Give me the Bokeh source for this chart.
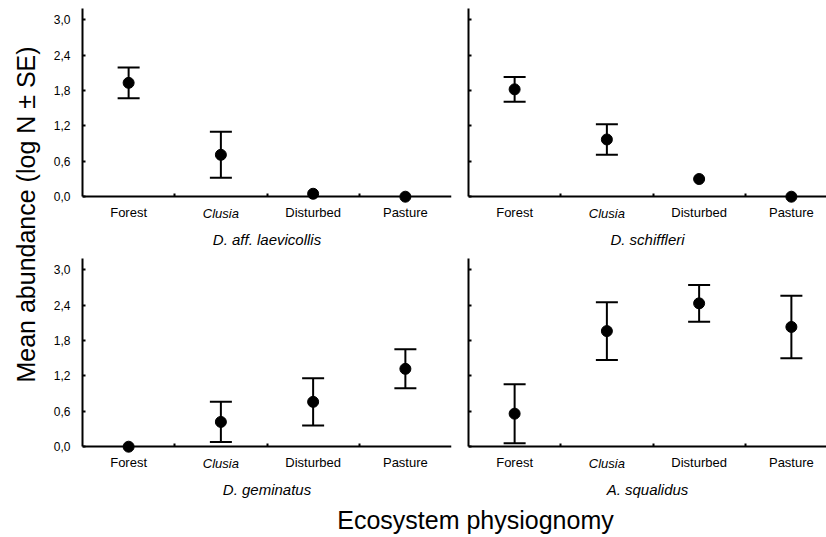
import math

from bokeh.embed import file_html
from bokeh.layouts import column, row
from bokeh.models import (ColumnDataSource, CustomJSTickFormatter, FixedTicker, Label,
                          LinearAxis, Range1d, TeeHead, Whisker)
from bokeh.plotting import figure
from bokeh.resources import INLINE

# Habitat categories along each x axis
habitats = ["Forest", "Clusia", "Disturbed", "Pasture"]
italic_habitats = ["Clusia"]

# Species shown in the four panels
species = ["D. aff. laevicollis", "D. schiffleri", "D. geminatus", "A. squalidus"]

# Mean abundance (log N) and standard error per habitat
laevicollis_mean = [1.93, 0.71, 0.05, 0.00]
laevicollis_se = [0.26, 0.39, 0.00, 0.00]

schiffleri_mean = [1.82, 0.97, 0.30, 0.00]
schiffleri_se = [0.21, 0.26, 0.00, 0.00]

geminatus_mean = [0.00, 0.42, 0.76, 1.32]
geminatus_se = [0.00, 0.34, 0.40, 0.33]

squalidus_mean = [0.56, 1.96, 2.43, 2.03]
squalidus_se = [0.50, 0.49, 0.31, 0.53]

y_ticks = [0.0, 0.6, 1.2, 1.8, 2.4, 3.0]

y_title = "Mean abundance (log N \u00b1 SE)"
x_title = "Ecosystem physiognomy"

FONT = "Liberation Sans"
PX_PER_X = 92.25          # pixels per habitat slot
PX_PER_Y = 59.0           # pixels per log unit
PANEL_H = 250
TOP = 8
FRAME_H = PANEL_H - TOP
Y_MAX = 3.19
Y_MIN = Y_MAX - FRAME_H / PX_PER_Y   # room under zero for the habitat and species names


def blank(width, height):
    f = figure(width=width, height=height, x_range=Range1d(0, width), y_range=Range1d(0, height),
               x_axis_type=None, y_axis_type=None, output_backend="svg", toolbar_location=None,
               min_border=0)
    f.outline_line_color = None
    return f


def panel(name, means, ses, width, frame_w, border_left, border_right, show_y_labels):
    x_end = frame_w / PX_PER_X
    p = figure(width=width, height=PANEL_H, x_range=Range1d(0, x_end), y_range=Range1d(Y_MIN, Y_MAX),
               x_axis_type=None, y_axis_type=None, output_backend="svg", toolbar_location=None,
               min_border_left=border_left, min_border_right=border_right,
               min_border_top=TOP, min_border_bottom=0)
    p.outline_line_color = None

    xs = [i + 0.5 for i in range(len(habitats))]
    overrides = {x: ("" if h in italic_habitats else h) for x, h in zip(xs, habitats)}

    # x axis sits on the zero line; its names hang below it inside the frame
    xaxis = LinearAxis(ticker=FixedTicker(ticks=xs, minor_ticks=[1, 2, 3]), fixed_location=0,
                       major_label_overrides=overrides, axis_label=name)
    xaxis.axis_line_width = 2
    xaxis.axis_line_color = "black"
    xaxis.major_tick_line_color = None
    xaxis.major_tick_in = 0
    xaxis.major_tick_out = 0
    xaxis.minor_tick_in = 3
    xaxis.minor_tick_out = 0
    xaxis.minor_tick_line_width = 2
    xaxis.minor_tick_line_color = "black"
    xaxis.major_label_standoff = 8
    xaxis.major_label_text_font = FONT
    xaxis.major_label_text_font_size = "13px"
    xaxis.major_label_text_color = "black"
    xaxis.axis_label_standoff = 8
    xaxis.axis_label_text_font = FONT
    xaxis.axis_label_text_font_size = "15px"
    xaxis.axis_label_text_font_style = "italic"
    xaxis.axis_label_text_color = "black"
    p.add_layout(xaxis, "below")

    yaxis = LinearAxis(ticker=FixedTicker(ticks=y_ticks), bounds=(0, Y_MAX))
    if show_y_labels:
        yaxis.formatter = CustomJSTickFormatter(code="return tick.toFixed(1).replace('.', ',');")
    else:
        yaxis.formatter = CustomJSTickFormatter(code="return '';")
    yaxis.axis_line_width = 2
    yaxis.axis_line_color = "black"
    yaxis.major_tick_in = 3
    yaxis.major_tick_out = 0
    yaxis.major_tick_line_width = 2
    yaxis.major_tick_line_color = "black"
    yaxis.minor_tick_line_color = None
    yaxis.major_label_standoff = 12 if show_y_labels else 0
    yaxis.major_label_text_font = FONT
    yaxis.major_label_text_font_size = "12px"
    yaxis.major_label_text_color = "black"
    p.add_layout(yaxis, "left")

    # italic habitat names written under their category
    for x, h in zip(xs, habitats):
        if h in italic_habitats:
            p.add_layout(Label(x=x, y=-9 / PX_PER_Y, text=h, text_align="center",
                               text_baseline="top", text_font=FONT, text_font_size="13px",
                               text_font_style="italic", text_color="black"))

    src = ColumnDataSource(dict(x=xs, mean=means))
    wx, lo, hi = [], [], []
    for x, m, s in zip(xs, means, ses):
        if s > 0:
            wx.append(x)
            lo.append(m - s)
            hi.append(m + s)
    wsrc = ColumnDataSource(dict(x=wx, lower=lo, upper=hi))
    p.add_layout(Whisker(source=wsrc, base="x", lower="lower", upper="upper",
                         line_color="black", line_width=2,
                         lower_head=TeeHead(size=22, line_color="black", line_width=2),
                         upper_head=TeeHead(size=22, line_color="black", line_width=2)))
    p.scatter("x", "mean", source=src, size=11, color="black")
    return p


tl = panel(species[0], laevicollis_mean, laevicollis_se, 415, 369, 38, 8, True)
tr = panel(species[1], schiffleri_mean, schiffleri_se, 367, 358, 9, 0, False)
bl = panel(species[2], geminatus_mean, geminatus_se, 415, 369, 38, 8, True)
br = panel(species[3], squalidus_mean, squalidus_se, 367, 358, 9, 0, False)

ylab = blank(44, 537)
ylab.add_layout(Label(x=25, y=323, text=y_title, angle=math.pi / 2, text_align="center",
                      text_baseline="alphabetic", text_font=FONT, text_font_size="25px",
                      text_color="black"))

xlab = blank(782, 37)
xlab.add_layout(Label(x=431, y=18, text=x_title, text_align="center", text_baseline="alphabetic",
                      text_font=FONT, text_font_size="25px", text_color="black"))

layout = row(ylab, column(row(tl, tr), row(bl, br), xlab))

open("out.html", "w").write(file_html(layout, INLINE))
